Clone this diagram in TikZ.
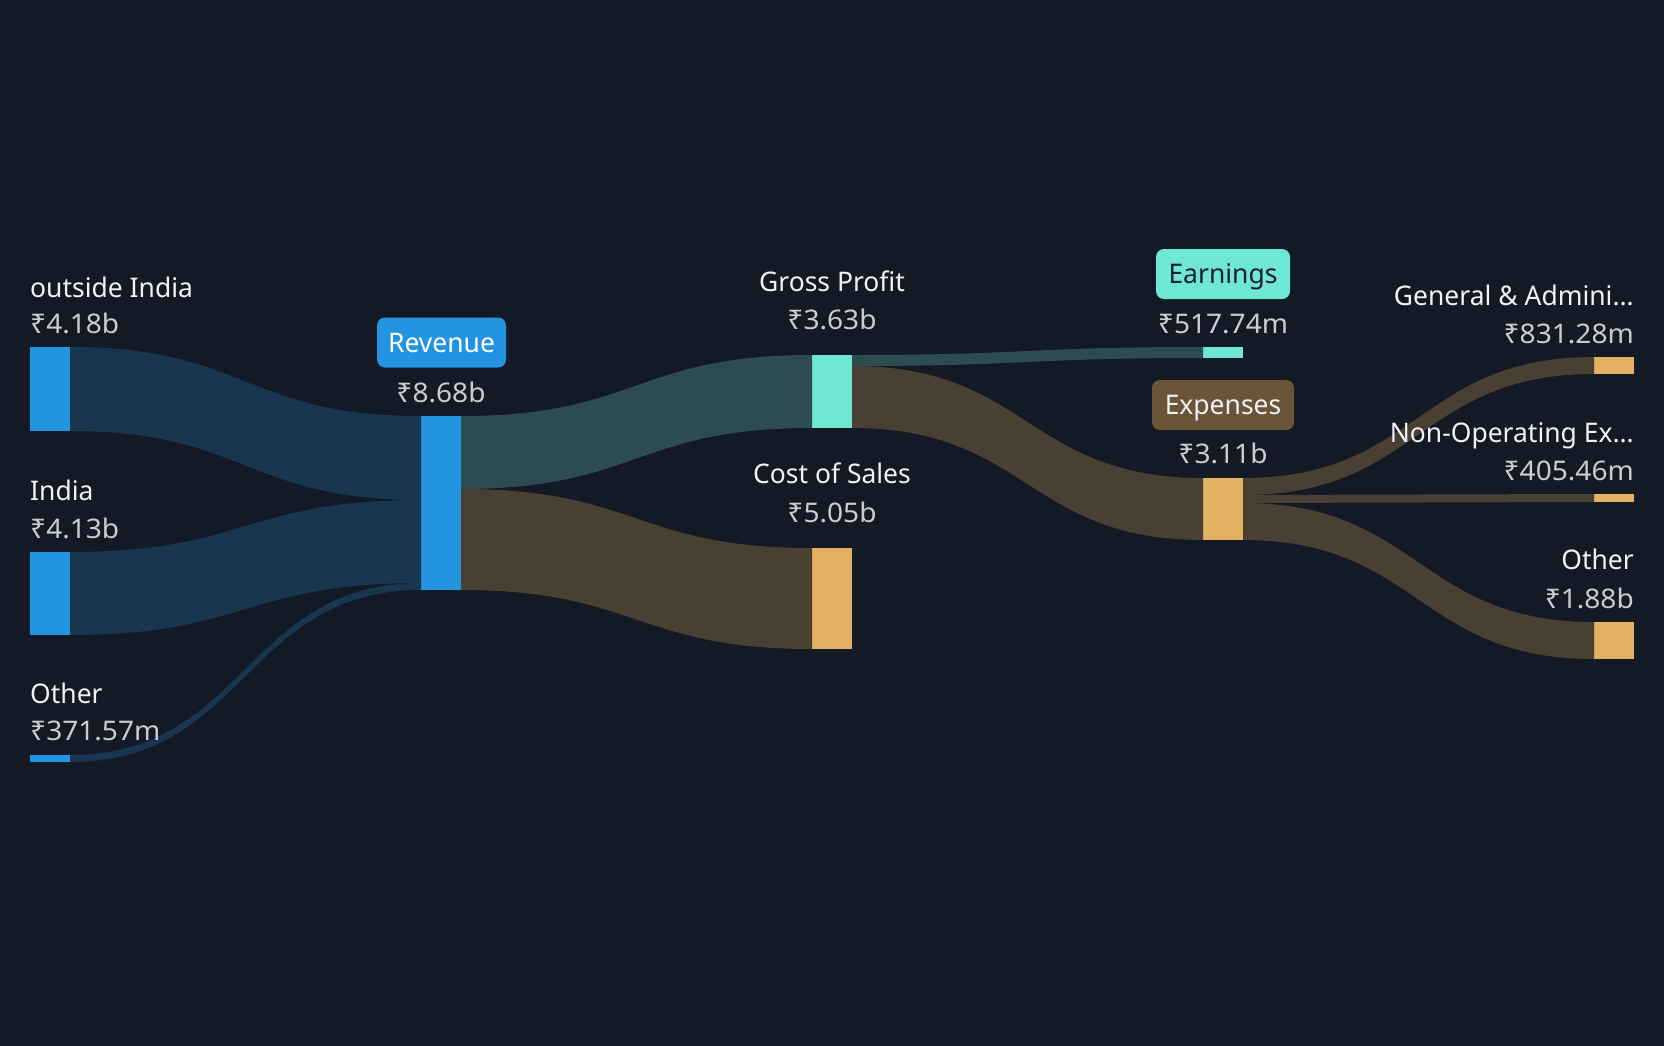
\documentclass[tikz,border=0pt]{standalone}
\usepackage{fontspec}
\setmainfont{Noto Sans}[FakeStretch=0.98]
\newfontfamily\valfont{Noto Sans}[FakeStretch=1.04]
\usetikzlibrary{calc}
\definecolor{bg}{HTML}{141A25}
\definecolor{cblue}{HTML}{2394DF}
\definecolor{cteal}{HTML}{6EE8D4}
\definecolor{cgold}{HTML}{E4B062}
\definecolor{fblue}{HTML}{18364F}
\definecolor{fteal}{HTML}{2C4C4F}
\definecolor{fbrown}{HTML}{4A3F33}
\definecolor{cexp}{HTML}{6B5539}
\definecolor{lblc}{HTML}{F0F2F4}
\definecolor{valc}{HTML}{C9CDD2}
\definecolor{darktxt}{HTML}{17202B}
\newcommand\sflow[5]{\fill[#1] let \p1=(#2),\p2=(#3),\p3=(#4),\p4=(#5) in
  (\p1) .. controls ({0.5*\x1+0.5*\x3},\y1) and ({0.5*\x1+0.5*\x3},\y3) .. (\p3)
  -- (\p4) .. controls ({0.5*\x2+0.5*\x4},\y4) and ({0.5*\x2+0.5*\x4},\y2) .. (\p2) -- cycle;}
\tikzset{
  bar/.style={draw=none, inner sep=0pt, outer sep=0pt, minimum width=40pt, anchor=north west},
  lbl/.style={font=\fontsize{27}{32}\selectfont, text=lblc, inner sep=0pt},
  val/.style={font=\valfont\fontsize{27}{32}\selectfont, text=valc, inner sep=0pt},
  pill/.style={font=\fontsize{27}{32}\selectfont, rounded corners=8pt, inner sep=0pt, minimum height=50pt,
    text height=19pt, text depth=0pt, anchor=center}
}
\begin{document}
\begin{tikzpicture}[x=1pt,y=-1pt]
\useasboundingbox (0,0) rectangle (1664,1046);
\fill[bg] (0,0) rectangle (1664,1046);

% bars
\node[bar, fill=cblue, minimum height=84pt] (oi) at (30,347) {};
\node[bar, fill=cblue, minimum height=83pt] (in) at (30,552) {};
\node[bar, fill=cblue, minimum height=7pt] (ot) at (30,755) {};
\node[bar, fill=cblue, minimum height=174pt] (rev) at (421,416) {};
\node[bar, fill=cteal, minimum height=73pt] (gp) at (812,355) {};
\node[bar, fill=cgold, minimum height=101pt] (cos) at (812,548) {};
\node[bar, fill=cteal, minimum height=11pt] (ear) at (1203,347) {};
\node[bar, fill=cgold, minimum height=62pt] (exp) at (1203,478) {};
\node[bar, fill=cgold, minimum height=17pt] (ga) at (1594,357) {};
\node[bar, fill=cgold, minimum height=8pt] (no) at (1594,494) {};
\node[bar, fill=cgold, minimum height=37pt] (oth) at (1594,622) {};

% flows
\sflow{fblue}{oi.north east}{oi.south east}{rev.north west}{$(rev.north west)+(0,84)$}
\sflow{fblue}{in.north east}{in.south east}{$(rev.north west)+(0,84)$}{$(rev.north west)+(0,167)$}
\sflow{fblue}{ot.north east}{ot.south east}{$(rev.north west)+(0,167)$}{rev.south west}
\sflow{fteal}{rev.north east}{$(rev.north east)+(0,73)$}{gp.north west}{gp.south west}
\sflow{fbrown}{$(rev.north east)+(0,73)$}{rev.south east}{cos.north west}{cos.south west}
\sflow{fteal}{gp.north east}{$(gp.north east)+(0,11)$}{ear.north west}{ear.south west}
\sflow{fbrown}{$(gp.north east)+(0,11)$}{gp.south east}{exp.north west}{exp.south west}
\sflow{fbrown}{exp.north east}{$(exp.north east)+(0,17)$}{ga.north west}{ga.south west}
\sflow{fbrown}{$(exp.north east)+(0,17)$}{$(exp.north east)+(0,25)$}{no.north west}{no.south west}
\sflow{fbrown}{$(exp.north east)+(0,25)$}{exp.south east}{oth.north west}{oth.south west}

% left labels
\node[lbl, anchor=base west] (loi) at (30,297) {outside India};
\node[val, anchor=base west] (voi) at (30,333) {₹4.18b};
\node[lbl, anchor=base west] (lin) at (30,500) {India};
\node[val, anchor=base west] (vin) at (30,538) {₹4.13b};
\node[lbl, anchor=base west] (lot) at (30,703) {Other};
\node[val, anchor=base west] (vot) at (30,740) {₹371.57m};

% middle labels
\node[pill, fill=cblue, text=white, minimum width=129pt] (lrev) at (441.5,342.5) {Revenue};
\node[val, anchor=base] (vrev) at (441,402) {₹8.68b};
\node[lbl, anchor=base] (lgp) at (832,291) {Gross Profit};
\node[val, anchor=base] (vgp) at (832,329) {₹3.63b};
\node[lbl, anchor=base] (lcos) at (832,483) {Cost of Sales};
\node[val, anchor=base] (vcos) at (832,522) {₹5.05b};
\node[pill, fill=cteal, text=darktxt, minimum width=134pt] (lear) at (1223,274) {Earnings};
\node[val, anchor=base] (vear) at (1223,333) {₹517.74m};
\node[pill, fill=cexp, text=lblc, minimum width=142pt] (lexp) at (1223,405) {Expenses};
\node[val, anchor=base] (vexp) at (1223,463) {₹3.11b};

% right labels
\node[lbl, anchor=base east] (lga) at (1634,305) {General \& Admini...};
\node[val, anchor=base east] (vga) at (1634,343) {₹831.28m};
\node[lbl, anchor=base east] (lno) at (1634,442) {Non-Operating Ex...};
\node[val, anchor=base east] (vno) at (1634,480) {₹405.46m};
\node[lbl, anchor=base east] (loth) at (1634,569) {Other};
\node[val, anchor=base east] (voth) at (1634,608) {₹1.88b};
\end{tikzpicture}
\end{document}
